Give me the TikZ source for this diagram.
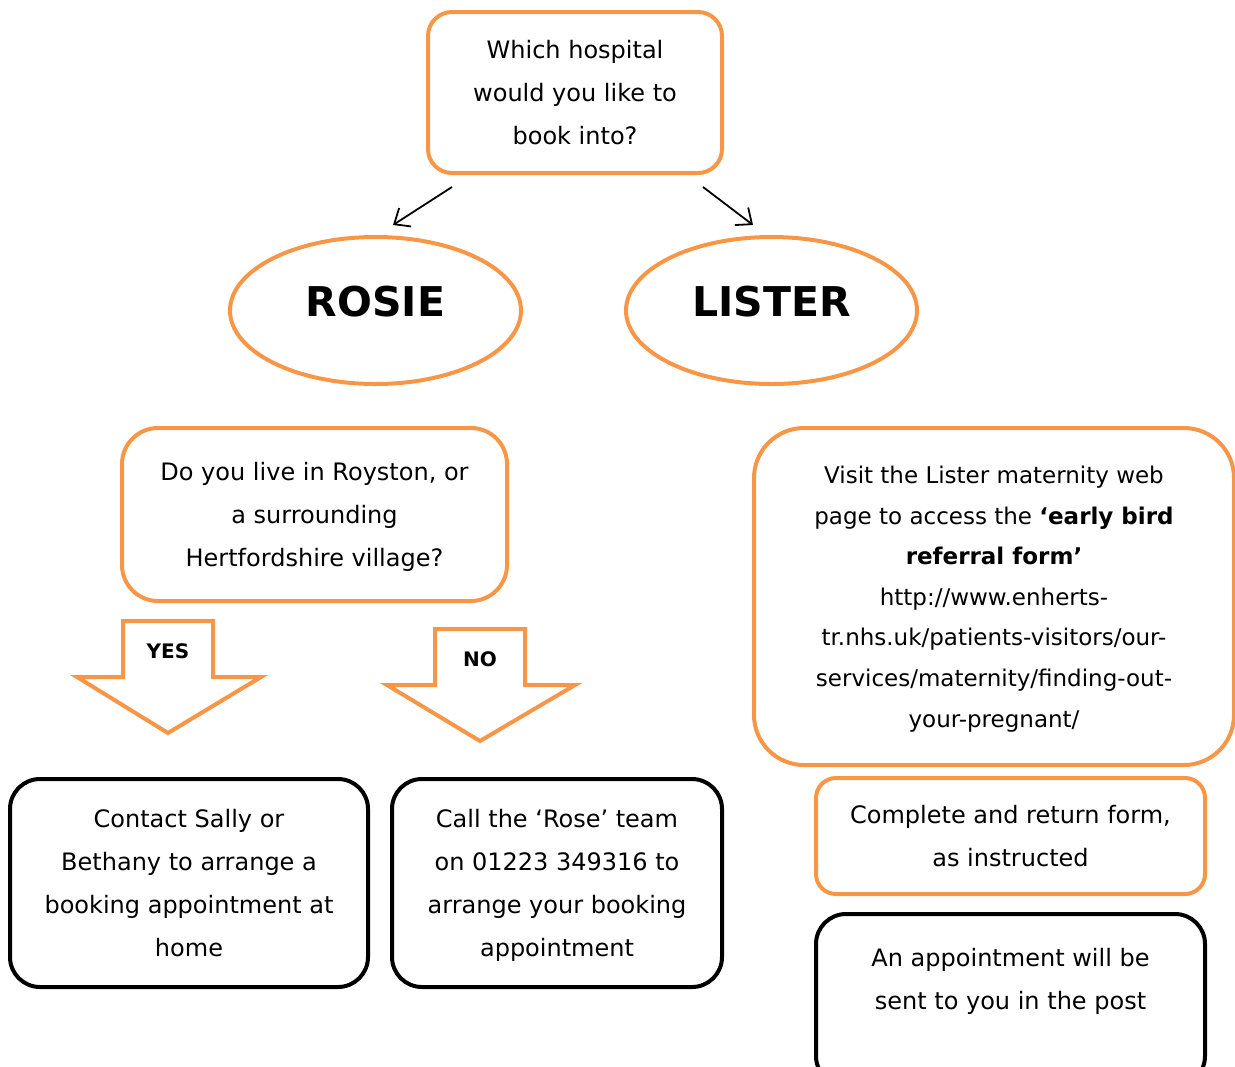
\documentclass[tikz,border=0pt]{standalone}
\usepackage{fontspec}
\setmainfont{DejaVu Sans}
\usetikzlibrary{arrows.meta,shapes.geometric,positioning}
\definecolor{boxorange}{HTML}{F79646}

\begin{document}
\begin{tikzpicture}[x=0.5pt,y=-0.5pt,->,>={Straight Barb[length=6.5pt,width=11pt]},
  obox/.style={draw=boxorange,line width=2pt,rounded corners=12pt,align=center,inner sep=0pt},
  kbox/.style={draw=black,line width=2pt,rounded corners=15pt,align=center,inner sep=0pt},
  hosp/.style={draw=boxorange,line width=2pt,ellipse,inner sep=0pt,
    minimum width=145.5pt,minimum height=73.5pt,font=\fontsize{20.5}{24}\selectfont\bfseries},
  blockarrow/.style={draw=boxorange,line width=2pt,fill=white,-},
  txt/.style={font=\fontsize{12}{21.5}\selectfont,text depth=0pt}]
  \useasboundingbox (0,0) rectangle (1235,1066);

  \node[obox,txt,minimum width=147pt,minimum height=80.5pt] (which) at (575,92.5)
    {Which hospital\\would you like to\\book into?};
  \node[hosp,text depth=9pt] (rosie) at (375.5,310.5) {ROSIE};
  \node[hosp,text depth=9pt] (lister) at (771.5,310.5) {LISTER};

  \coordinate (wl) at (452,187);
  \coordinate (rl) at (393,225);
  \coordinate (wr) at (703,187);
  \coordinate (lr) at (753,225);
  \draw[line width=0.9pt] (wl) -- (rl);
  \draw[line width=0.9pt] (wr) -- (lr);

  % rosie side
  \node[obox,txt,rounded corners=18pt,minimum width=192.5pt,minimum height=86.5pt] (royston) at (314.5,514.5)
    {Do you live in Royston, or\\a surrounding\\Hertfordshire village?};

  \draw[blockarrow] (123,621) -- (213,621) -- (213,677) -- (261,677) -- (168,733)
    -- (77,677) -- (123,677) -- cycle;
  \node[font=\fontsize{10}{12}\selectfont\bfseries] (yes) at (168,651) {YES};
  \draw[blockarrow] (435,629) -- (525,629) -- (525,685) -- (575,685) -- (480,741)
    -- (387,685) -- (435,685) -- cycle;
  \node[font=\fontsize{10}{12}\selectfont\bfseries] (no) at (480,659) {NO};

  \node[kbox,txt,minimum width=179pt,minimum height=104pt] (sally) at (189,883)
    {Contact Sally or\\Bethany to arrange a\\booking appointment at\\home};
  \node[kbox,txt,minimum width=165pt,minimum height=104pt] (rose) at (557,883)
    {Call the ‘Rose’ team\\on 01223 349316 to\\arrange your booking\\appointment};

  % lister side
  \node[obox,rounded corners=25pt,font=\fontsize{11.5}{20.3}\selectfont,text depth=0pt,
    minimum width=240pt,minimum height=168.5pt] (web) at (994,596.5)
    {Visit the Lister maternity web\\page to access the \textbf{‘early bird}\\\textbf{referral form’}\\
     http://www.enherts-\\tr.nhs.uk/patients-visitors/our-\\services/maternity/finding-out-\\your-pregnant/};
  \node[obox,txt,rounded corners=10pt,minimum width=194.5pt,minimum height=58pt] (form) at (1010.5,836)
    {Complete and return form,\\as instructed};
  \node[kbox,minimum width=194.5pt,minimum height=86pt] (post) at (1010.5,1000) {};
  \node[txt,align=center,below=14.5pt of post.north] (posttext)
    {An appointment will be\\sent to you in the post};
\end{tikzpicture}
\end{document}
